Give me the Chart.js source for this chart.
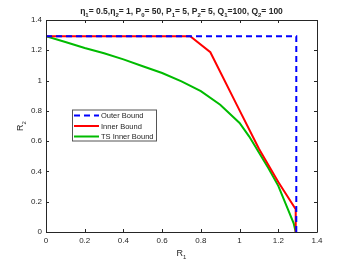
<!DOCTYPE html>
<html>
<head>
<meta charset="utf-8">
<script src="https://cdn.jsdelivr.net/npm/chart.js@4"></script>
<style>
  html, body { margin: 0; padding: 0; background: #fff; }
  #wrap { width: 350px; height: 263px; }
</style>
</head>
<body>
<div id="wrap"><canvas id="chart" width="350" height="263"></canvas></div>
<script>
// values
const outerX = [0, 1.293, 1.293];
const outerY = [1.293, 1.293, 0];

const innerX = [0, 0.745, 0.849, 0.987, 1.1, 1.2, 1.29, 1.29];
const innerY = [1.293, 1.293, 1.187, 0.836, 0.55, 0.33, 0.15, 0];

const tsX = [0, 0.1, 0.2, 0.3, 0.4, 0.5, 0.6, 0.7, 0.8, 0.9, 1.0, 1.05, 1.1, 1.15, 1.2, 1.25, 1.28, 1.29];
const tsY = [1.293, 1.255, 1.215, 1.18, 1.14, 1.095, 1.05, 0.995, 0.93, 0.84, 0.72, 0.63, 0.525, 0.42, 0.305, 0.15, 0.055, 0];

const xTicks = [0, 0.2, 0.4, 0.6, 0.8, 1, 1.2, 1.4];
const yTicks = [0, 0.2, 0.4, 0.6, 0.8, 1, 1.2, 1.4];

const seriesNames = ['Outer Bound', 'Inner Bound', 'TS Inner Bound'];

const axisColor = '#262626';
const fontFam = '"Liberation Sans", Arial, Helvetica, sans-serif';

function pts(xs, ys) {
    return xs.map((x, i) => ({ x: x, y: ys[i] }));
}

// text with _ subscripts, e.g. "P_0"
function drawSubText(ctx, parts, x, y, size, bold, align) {
    const mainFont = (bold ? 'bold ' : '') + size + 'px ' + fontFam;
    const subFont = (bold ? 'bold ' : '') + Math.round(size * 0.72) + 'px ' + fontFam;
    let total = 0;
    parts.forEach(p => {
        ctx.font = p.sub ? subFont : mainFont;
        total += ctx.measureText(p.t).width;
    });
    let cx = align === 'center' ? x - total / 2 : x;
    ctx.textBaseline = 'alphabetic';
    ctx.textAlign = 'left';
    parts.forEach(p => {
        ctx.font = p.sub ? subFont : mainFont;
        ctx.fillText(p.t, cx, p.sub ? y + size * 0.3 : y);
        cx += ctx.measureText(p.t).width;
    });
}

function parseSub(str) {
    // "a_1b" -> [{t:'a'},{t:'1',sub:true},{t:'b'}]
    const out = [];
    let buf = '';
    for (let i = 0; i < str.length; i++) {
        if (str[i] === '_') {
            if (buf) out.push({ t: buf });
            buf = '';
            out.push({ t: str[i + 1], sub: true });
            i++;
        } else {
            buf += str[i];
        }
    }
    if (buf) out.push({ t: buf });
    return out;
}

const titleStr = '\u03b7_1= 0.5,\u03b7_2= 1, P_0= 50, P_1= 5, P_2= 5, Q_1=100, Q_2= 100';

const matlabAxes = {
    id: 'matlabAxes',
    afterDatasetsDraw(chart) {
        const ctx = chart.ctx;
        const a = chart.chartArea;
        const xs = chart.scales.x;
        const ys = chart.scales.y;
        ctx.save();
        ctx.strokeStyle = axisColor;
        ctx.lineWidth = 1;
        ctx.beginPath();
        ctx.rect(Math.round(a.left) + 0.5, Math.round(a.top) + 0.5,
                 Math.round(a.right - a.left), Math.round(a.bottom - a.top));
        ctx.stroke();
        const tl = 3;
        ctx.beginPath();
        xTicks.forEach(v => {
            const px = Math.round(xs.getPixelForValue(v)) + 0.5;
            ctx.moveTo(px, a.bottom); ctx.lineTo(px, a.bottom - tl);
            ctx.moveTo(px, a.top); ctx.lineTo(px, a.top + tl);
        });
        yTicks.forEach(v => {
            const py = Math.round(ys.getPixelForValue(v)) + 0.5;
            ctx.moveTo(a.left, py); ctx.lineTo(a.left + tl, py);
            ctx.moveTo(a.right, py); ctx.lineTo(a.right - tl, py);
        });
        ctx.stroke();

        // tick labels
        ctx.fillStyle = axisColor;
        ctx.font = '8px ' + fontFam;
        ctx.textAlign = 'center';
        ctx.textBaseline = 'top';
        xTicks.forEach(v => {
            ctx.fillText(String(v), xs.getPixelForValue(v), a.bottom + 5);
        });
        ctx.textAlign = 'right';
        ctx.textBaseline = 'middle';
        yTicks.forEach(v => {
            ctx.fillText(String(v), a.left - 4, ys.getPixelForValue(v));
        });

        // axis labels
        drawSubText(ctx, parseSub('R_1'), (a.left + a.right) / 2, 256, 9, false, 'center');
        ctx.save();
        ctx.translate(23, (a.top + a.bottom) / 2);
        ctx.rotate(-Math.PI / 2);
        drawSubText(ctx, parseSub('R_2'), 0, 0, 9, false, 'center');
        ctx.restore();

        // title
        drawSubText(ctx, parseSub(titleStr), (a.left + a.right) / 2, 14, 8.5, true, 'center');

        // legend box
        const lx = 72, ly = 109.5, lw = 84, lh = 31;
        ctx.fillStyle = '#fff';
        ctx.fillRect(lx, ly, lw, lh);
        ctx.strokeStyle = '#555';
        ctx.lineWidth = 1;
        ctx.strokeRect(lx + 0.5, ly + 0.5, lw, lh);
        chart.data.datasets.forEach((ds, i) => {
            const yy = ly + 6 + i * 10.5;
            ctx.save();
            ctx.strokeStyle = ds.borderColor;
            ctx.lineWidth = ds.borderWidth;
            ctx.setLineDash(ds.borderDash || []);
            ctx.beginPath();
            ctx.moveTo(lx + 2, yy);
            ctx.lineTo(lx + 27, yy);
            ctx.stroke();
            ctx.restore();
            ctx.fillStyle = axisColor;
            ctx.font = '7.5px ' + fontFam;
            ctx.textAlign = 'left';
            ctx.textBaseline = 'middle';
            ctx.fillText(ds.label, lx + 29, yy + 0.5);
        });
        ctx.restore();
    }
};

new Chart(document.getElementById('chart').getContext('2d'), {
    type: 'scatter',
    data: {
        datasets: [
            {
                label: seriesNames[0],
                data: pts(outerX, outerY),
                showLine: true,
                borderColor: '#0000ff',
                borderWidth: 2,
                borderDash: [6, 4],
                pointRadius: 0,
                tension: 0
            },
            {
                label: seriesNames[1],
                data: pts(innerX, innerY),
                showLine: true,
                borderColor: '#ff0000',
                borderWidth: 2,
                pointRadius: 0,
                tension: 0
            },
            {
                label: seriesNames[2],
                data: pts(tsX, tsY),
                showLine: true,
                borderColor: '#00bb00',
                borderWidth: 2,
                pointRadius: 0,
                tension: 0
            }
        ]
    },
    options: {
        responsive: false,
        animation: false,
        devicePixelRatio: 1,
        layout: { padding: { left: 0, right: 33, top: 20, bottom: 0 } },
        scales: {
            x: {
                type: 'linear', min: 0, max: 1.4,
                grid: { display: false },
                border: { display: false },
                ticks: { display: false },
                afterFit: (s) => { s.height = 31; }
            },
            y: {
                type: 'linear', min: 0, max: 1.4,
                grid: { display: false },
                border: { display: false },
                ticks: { display: false },
                afterFit: (s) => { s.width = 46; }
            }
        },
        plugins: {
            legend: { display: false },
            tooltip: { enabled: false }
        }
    },
    plugins: [matlabAxes]
});
</script>
</body>
</html>
